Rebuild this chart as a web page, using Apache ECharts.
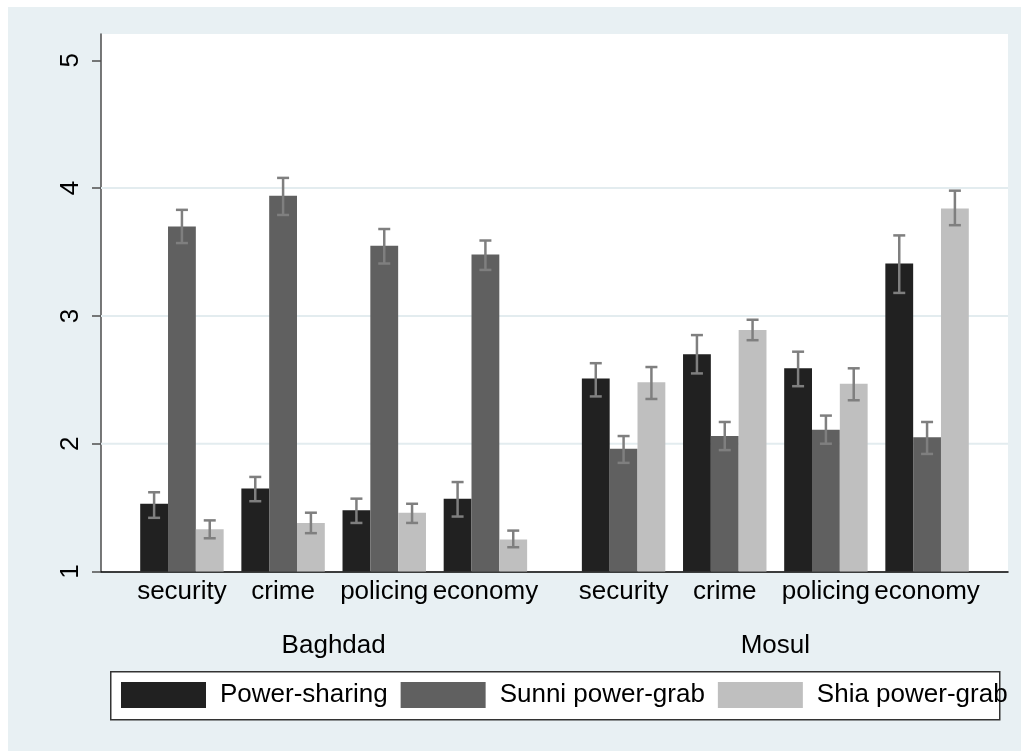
<!DOCTYPE html>
<html>
<head>
<meta charset="utf-8">
<title>Perceived performance by scenario: Baghdad and Mosul</title>
<script src="https://cdn.jsdelivr.net/npm/echarts@6/dist/echarts.min.js"></script>
<style>
  html, body { margin: 0; padding: 0; background: #ffffff; overflow: hidden; width: 1021px; height: 751px; }
  #frame { position: absolute; left: 8px; top: 7px; width: 1100px; height: 800px; background: #e8f0f3; }
  #chart { position: absolute; left: 0; top: 0; width: 1021px; height: 751px; }
</style>
</head>
<body>
<div id="frame"></div>
<div id="chart"></div>
<script>
// ---- data -------------------------------------------------------------
const regions = ['Baghdad', 'Mosul'];
const categories = ['security', 'crime', 'policing', 'economy'];
const seriesNames = ['Power-sharing', 'Sunni power-grab', 'Shia power-grab'];
const yTicks = [1, 2, 3, 4, 5];

// means and confidence bounds, ordered Baghdad x4 then Mosul x4
const powerSharingMean = [1.53, 1.65, 1.48, 1.57, 2.51, 2.70, 2.59, 3.41];
const powerSharingLow  = [1.42, 1.55, 1.38, 1.43, 2.37, 2.55, 2.45, 3.18];
const powerSharingHigh = [1.62, 1.74, 1.57, 1.70, 2.63, 2.85, 2.72, 3.63];

const sunniGrabMean = [3.70, 3.94, 3.55, 3.48, 1.96, 2.06, 2.11, 2.05];
const sunniGrabLow  = [3.57, 3.79, 3.41, 3.36, 1.85, 1.95, 2.00, 1.92];
const sunniGrabHigh = [3.83, 4.08, 3.68, 3.59, 2.06, 2.17, 2.22, 2.17];

const shiaGrabMean = [1.33, 1.38, 1.46, 1.25, 2.48, 2.89, 2.47, 3.84];
const shiaGrabLow  = [1.26, 1.30, 1.38, 1.19, 2.35, 2.81, 2.34, 3.71];
const shiaGrabHigh = [1.40, 1.46, 1.53, 1.32, 2.60, 2.97, 2.59, 3.98];

// ---- layout (axis units: one category slot = 1) -----------------------
const OUTER_PAD = 0.8;     // space before the first and after the last slot
const GROUP_GAP = 1.366;   // extra space between the two regions
const BAR_W = 0.275;       // width of one bar
const CAP_PX = 12;         // error-bar cap width in pixels
const Y_MIN = 1, Y_MAX = 5.206;
const X_MIN = 0;
const X_MAX = 2 * OUTER_PAD + regions.length * (categories.length - 1) + (regions.length - 1) * GROUP_GAP;

const COLORS = ['#212121', '#606060', '#bfbfbf'];
const ERR_COLOR = '#7f7f7f';
const GRID_COLOR = '#e3ecef';
const FONT = "'Liberation Sans', Arial, Helvetica, sans-serif";

// slot centre of every (region, category) pair
const slotPos = [];
const slotLabel = {};
regions.forEach((r, g) => {
  categories.forEach((c, i) => {
    const p = OUTER_PAD + i + g * (categories.length - 1 + GROUP_GAP);
    slotPos.push(p);
    slotLabel[p.toFixed(3)] = c;
  });
});
const groupPos = regions.map((r, g) => {
  const a = slotPos[g * categories.length];
  const b = slotPos[g * categories.length + categories.length - 1];
  return (a + b) / 2;
});
const groupLabel = {};
groupPos.forEach((p, g) => { groupLabel[p.toFixed(3)] = regions[g]; });

const means = [powerSharingMean, sunniGrabMean, shiaGrabMean];
const lows = [powerSharingLow, sunniGrabLow, shiaGrabLow];
const highs = [powerSharingHigh, sunniGrabHigh, shiaGrabHigh];

function barRenderer(seriesIdx) {
  const offset = (seriesIdx - 1) * BAR_W;
  return function (params, api) {
    const x = api.value(0) + offset;
    const v = api.value(1), lo = api.value(2), hi = api.value(3);
    const tl = api.coord([x - BAR_W / 2, v]);
    const br = api.coord([x + BAR_W / 2, Y_MIN]);
    const top = api.coord([x, hi]);
    const bot = api.coord([x, lo]);
    const cx = top[0];
    const errStyle = { stroke: ERR_COLOR, lineWidth: 2.5 };
    return {
      type: 'group',
      children: [
        { type: 'rect', shape: { x: tl[0], y: tl[1], width: br[0] - tl[0], height: br[1] - tl[1] },
          style: { fill: COLORS[seriesIdx] } },
        { type: 'line', shape: { x1: cx, y1: top[1], x2: cx, y2: bot[1] }, style: errStyle },
        { type: 'line', shape: { x1: cx - CAP_PX / 2, y1: top[1], x2: cx + CAP_PX / 2, y2: top[1] }, style: errStyle },
        { type: 'line', shape: { x1: cx - CAP_PX / 2, y1: bot[1], x2: cx + CAP_PX / 2, y2: bot[1] }, style: errStyle }
      ]
    };
  };
}

const barSeries = seriesNames.map((name, s) => ({
  name: name,
  type: 'custom',
  xAxisIndex: 0,
  yAxisIndex: 0,
  itemStyle: { color: COLORS[s] },
  encode: { x: 0, y: 1 },
  data: slotPos.map((p, i) => [p, means[s][i], lows[s][i], highs[s][i]]),
  renderItem: barRenderer(s),
  silent: true,
  z: 3
}));

// horizontal reference lines at interior ticks
const gridSeries = {
  name: 'gridlines',
  type: 'custom',
  encode: { x: 0, y: 1 },
  data: yTicks.slice(1, -1).map(v => [X_MIN, v]),
  renderItem: function (params, api) {
    const y = api.value(1);
    const a = api.coord([X_MIN, y]);
    const b = api.coord([X_MAX, y]);
    return { type: 'line', shape: { x1: a[0], y1: a[1], x2: b[0], y2: b[1] },
             style: { stroke: GRID_COLOR, lineWidth: 2 } };
  },
  silent: true,
  z: 1
};

const chart = echarts.init(document.getElementById('chart'), null, { renderer: 'canvas' });
chart.setOption({
  backgroundColor: 'transparent',
  animation: false,
  textStyle: { fontFamily: FONT, color: '#000' },
  grid: { left: 101, right: 13, top: 34, bottom: 179.5, show: true, backgroundColor: '#ffffff', borderWidth: 0 },
  xAxis: [
    {
      type: 'value', min: X_MIN, max: X_MAX, position: 'bottom',
      axisLine: { show: true, onZero: false, lineStyle: { color: '#000000', width: 1.5 } },
      axisTick: { show: false },
      splitLine: { show: false },
      axisLabel: {
        customValues: slotPos, margin: 7, fontSize: 26, lineHeight: 26, color: '#000', fontFamily: FONT,
        formatter: v => slotLabel[Number(v).toFixed(3)] || ''
      }
    },
    {
      type: 'value', min: X_MIN, max: X_MAX, position: 'bottom', offset: 0,
      axisLine: { show: false }, axisTick: { show: false }, splitLine: { show: false },
      axisLabel: {
        customValues: groupPos, margin: 61, fontSize: 26, lineHeight: 26, color: '#000', fontFamily: FONT,
        formatter: v => groupLabel[Number(v).toFixed(3)] || ''
      }
    }
  ],
  yAxis: {
    type: 'value', min: Y_MIN, max: Y_MAX,
    axisLine: { show: true, onZero: false, lineStyle: { color: '#4d4d4d', width: 1.5 } },
    axisTick: { show: true, length: 9, customValues: yTicks, lineStyle: { color: '#4d4d4d', width: 1.5 } },
    splitLine: { show: false },
    axisLabel: { customValues: yTicks, rotate: 90, margin: 17, fontSize: 26, lineHeight: 26, color: '#000', fontFamily: FONT }
  },
  legend: {
    data: seriesNames,
    selectedMode: false,
    orient: 'horizontal',
    left: 121, top: 682,
    padding: 0,
    itemWidth: 85, itemHeight: 26, itemGap: 13,
    icon: 'rect',
    textStyle: { fontSize: 26, lineHeight: 26, color: '#000', fontFamily: FONT, padding: [0, 0, 0, 9] },
    z: 10
  },
  graphic: [
    { type: 'rect', left: 110, top: 671, z: 5,
      shape: { width: 889, height: 48 },
      style: { fill: '#ffffff', stroke: '#333333', lineWidth: 1.5 } }
  ],
  series: [gridSeries].concat(barSeries)
});
</script>
</body>
</html>
